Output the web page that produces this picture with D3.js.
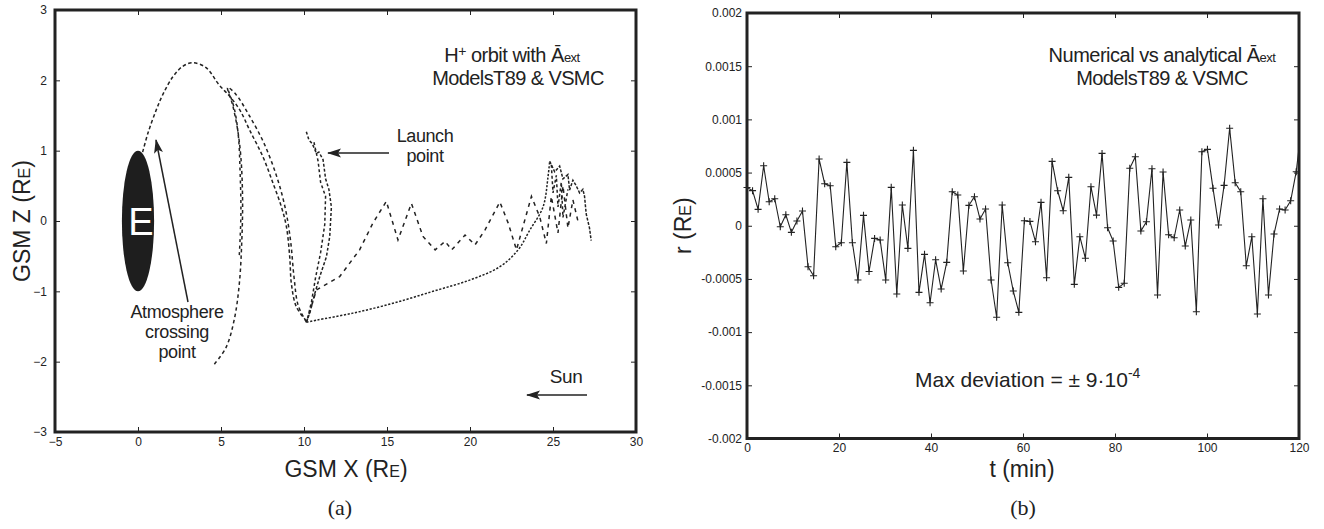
<!DOCTYPE html>
<html>
<head>
<meta charset="utf-8">
<script src="https://cdn.jsdelivr.net/npm/d3@7"></script>
<style>
  body { margin: 0; background: #fff; }
  svg { display: block; }
  text { font-family: "Liberation Sans", Arial, sans-serif; fill: #222; }
  .serif { font-family: "Liberation Serif", "Times New Roman", serif; }
</style>
</head>
<body>
<svg id="chart" width="1324" height="529"></svg>
<script>
// ---- panel (a): orbit segments, [GSM X, GSM Z] in Earth radii
const earthArc = [[0.28,0.98],[0.6,1.25],[1.1,1.58],[1.5,1.8],[2.1,2.05],[2.7,2.2],[3.3,2.25],[4.1,2.18],[4.9,1.93],
  [5.5,1.78],[6.13,1.58],[6.73,1.29],[7.53,0.91],[8.13,0.54],[8.64,0.2],[8.94,-0.08],[9.14,-0.51],[9.24,-0.89],[9.54,-1.22],[10.14,-1.42]]
const innerLoop = [[10.15,-1.44],[9.65,-1.2],[9.4,-0.8],[9.2,-0.3],[8.9,0.15],[8.4,0.6],[7.6,1.1],[6.7,1.5],[5.9,1.8],[5.4,1.9],
  [5.7,1.65],[6.0,1.3],[6.2,0.9],[6.3,0.3],[6.25,-0.3],[6.1,-0.9],[5.8,-1.4],[5.3,-1.8],[4.55,-2.05]]
const innerLoop2 = [[5.45,1.85],[5.8,1.6],[6.05,1.2],[6.15,0.7],[6.2,0.1],[6.1,-0.5]]
const launchStrand = [[10.14,1.27],[10.3,1.15],[10.5,1.1],[10.75,0.96],[10.9,0.98],[11.15,0.87],[11.3,0.6],[11.5,0.45],[11.65,0.2],
  [11.55,-0.22],[11.35,-0.51],[10.95,-0.79],[10.65,-1.03],[10.35,-1.31],[10.15,-1.43]]
const launchStrand2 = [[10.6,1.12],[10.85,0.85],[11.0,0.55],[11.3,0.35],[11.25,-0.05],[11.0,-0.45],[10.7,-0.8],[10.45,-1.15],[10.2,-1.4]]
const wavyPath = [[10.15,-1.44],[10.75,-0.98],[12.15,-0.79],[13.35,-0.41],[14.15,-0.03],[14.96,0.28],[15.66,-0.27],[16.47,0.25],
  [17.17,-0.22],[17.9,-0.41],[18.5,-0.29],[18.9,-0.41],[19.7,-0.2],[20.3,-0.34],[20.9,-0.13],[21.8,0.27],[22.3,-0.03],[22.8,-0.41],
  [23.7,0.35],[24.2,0.06],[24.6,-0.32],[24.9,0.35],[25.3,-0.17],[25.6,0.5],[25.9,-0.1],[26.2,0.3],[26.5,0.0]]
const dottedPath = [[10.15,-1.44],[10.75,-1.41],[12.95,-1.31],[15.36,-1.17],[17.77,-1.0],[19.98,-0.84],[21.8,-0.65],[22.9,-0.41],
  [23.6,-0.13],[24.4,0.2],[24.7,0.63],[24.8,0.85]]
const farCluster = [[24.8,0.85],[25.1,0.7],[25.4,0.78],[25.6,0.6],[25.9,0.66],[26.0,0.44],[26.2,0.58],[26.4,0.5],[26.6,0.4],
  [26.8,0.45],[26.9,0.35],[27.0,0.1],[27.2,-0.1],[27.3,-0.28]]
const farCluster2 = [[24.9,0.8],[25.0,0.4],[25.2,0.65],[25.3,0.2],[25.5,0.55],[25.6,0.05],[25.9,0.45]]
const orbitX = [-5, 0, 5, 10, 15, 20, 25, 30]
const orbitZ = [-3, -2, -1, 0, 1, 2, 3]

// ---- panel (b): deviation r (RE), one sample every ~1.2 min
const sampleStep = 1.206
const deviation = [0.00036,0.00033,0.000154,0.000564,0.000226,0.000254,-0.00001,0.000103,-0.000062,0.000044,
  0.000138,-0.000385,-0.00047,0.000627,0.000395,0.000376,-0.000197,-0.00016,0.000596,-0.00016,
  -0.00051,0.000098,-0.00043,-0.000119,-0.000134,-0.00051,0.000361,-0.000642,0.000195,-0.000213,
  0.000709,-0.000626,-0.000269,-0.000724,-0.00032,-0.000595,-0.000344,0.00032,0.000289,-0.000426,
  0.000192,0.000273,0.000063,0.000157,-0.00051,-0.00086,0.000195,-0.000348,-0.000614,-0.000814,
  0.000047,0.000041,-0.00015,0.00022,-0.000489,0.000605,0.000329,0.000141,0.000455,-0.000551,
  -0.000103,-0.000306,0.000367,0.0001,0.00068,-0.000019,-0.000144,-0.000579,-0.000541,0.00054,
  0.000649,-0.00005,0.000038,0.000536,-0.000651,0.000505,-0.000085,-0.000113,0.000148,-0.000191,
  0.000054,-0.000808,0.000696,0.000718,0.000352,0.0000066,0.00038,0.000916,0.000404,0.00032,
  -0.000376,-0.000103,-0.00083,0.000254,-0.000651,-0.000078,0.000157,0.000148,0.000235,0.000508,
  0.00095]
const timeTicks = [0, 20, 40, 60, 80, 100, 120]
const devTicks = [-0.002, -0.0015, -0.001, -0.0005, 0, 0.0005, 0.001, 0.0015, 0.002]

const svg = d3.select('#chart')
const ink = '#222'

const defs = svg.append('defs')
defs.append('marker')
  .attr('id', 'head')
  .attr('viewBox', '0 -5 14 10')
  .attr('refX', 13).attr('refY', 0)
  .attr('markerWidth', 14).attr('markerHeight', 10)
  .attr('markerUnits', 'userSpaceOnUse')
  .attr('orient', 'auto')
  .append('path')
  .attr('d', 'M0,-4.5L14,0L0,4.5L3,0Z')
  .attr('fill', ink)

// frame + inward ticks on all four sides
function frame(g, x, y, xt, yt, xfmt, yfmt, ypad) {
  const [x0, x1] = x.range(), [y0, y1] = y.range()
  g.append('g').attr('transform', `translate(0,${y0})`)
    .call(d3.axisBottom(x).tickValues(xt).tickSize(-5).tickPadding(5).tickFormat(xfmt))
  g.append('g').attr('transform', `translate(0,${y1})`)
    .call(d3.axisTop(x).tickValues(xt).tickSize(-5).tickFormat(''))
  g.append('g').attr('transform', `translate(${x0},0)`)
    .call(d3.axisLeft(y).tickValues(yt).tickSize(-5).tickPadding(ypad).tickFormat(yfmt))
  g.append('g').attr('transform', `translate(${x1},0)`)
    .call(d3.axisRight(y).tickValues(yt).tickSize(-5).tickFormat(''))
  g.selectAll('.domain').remove()
  g.selectAll('.tick line').attr('stroke', ink).attr('stroke-width', 1)
  g.selectAll('.tick text').attr('font-size', 12).attr('fill', ink)
    .attr('font-family', '"Liberation Sans", Arial, sans-serif')
  g.append('rect')
    .attr('x', x0).attr('y', y1).attr('width', x1 - x0).attr('height', y0 - y1)
    .attr('fill', 'none').attr('stroke', ink).attr('stroke-width', 3)
}

// ================= panel (a) =================
const xa = d3.scaleLinear().domain([-5, 30]).range([55, 636])
const ya = d3.scaleLinear().domain([-3, 3]).range([432, 10])
const ga = svg.append('g')

ga.append('ellipse')
  .attr('cx', xa(0)).attr('cy', ya(0))
  .attr('rx', xa(0.97) - xa(0)).attr('ry', ya(0) - ya(1))
  .attr('fill', '#1e1e1e')
ga.append('text').attr('x', xa(0) + 3).attr('y', ya(0) + 14)
  .attr('text-anchor', 'middle').attr('font-size', 38).style('fill', '#fff').text('E')

const smooth = d3.line().x(d => xa(d[0])).y(d => ya(d[1])).curve(d3.curveCatmullRom)
const jag = d3.line().x(d => xa(d[0])).y(d => ya(d[1]))

const segs = [
  { pts: earthArc, gen: smooth, dash: '3.5,2.5' },
  { pts: innerLoop, gen: smooth, dash: '3.5,3' },
  { pts: innerLoop2, gen: smooth, dash: '3,3.5' },
  { pts: launchStrand, gen: jag, dash: '3,2' },
  { pts: launchStrand2, gen: jag, dash: '3,2.5' },
  { pts: wavyPath, gen: jag, dash: '4,4.5' },
  { pts: dottedPath, gen: smooth, dash: '2.2,1.6' },
  { pts: farCluster, gen: jag, dash: '3,1.5' },
  { pts: farCluster2, gen: jag, dash: '3,2.5' }
]
ga.selectAll('path.orbit').data(segs).join('path')
  .attr('class', 'orbit')
  .attr('d', d => d.gen(d.pts))
  .attr('fill', 'none').attr('stroke', ink).attr('stroke-width', 1.5)
  .attr('stroke-dasharray', d => d.dash)

frame(ga, xa, ya, orbitX, orbitZ, d3.format('d'), d3.format('d'), 8)

// arrows and notes
ga.append('line').attr('x1', 188).attr('y1', 302).attr('x2', 156).attr('y2', 140)
  .attr('stroke', ink).attr('stroke-width', 1.5).attr('marker-end', 'url(#head)')
ga.append('line').attr('x1', 389).attr('y1', 153).attr('x2', 328).attr('y2', 153)
  .attr('stroke', ink).attr('stroke-width', 1.5).attr('marker-end', 'url(#head)')
ga.append('line').attr('x1', 587).attr('y1', 395).attr('x2', 527).attr('y2', 395)
  .attr('stroke', ink).attr('stroke-width', 1.5).attr('marker-end', 'url(#head)')

const note = (x, y, lines, size) => {
  const t = ga.append('text').attr('x', x).attr('y', y).attr('text-anchor', 'middle')
    .attr('font-size', size).attr('letter-spacing', -0.4)
  lines.forEach((l, i) => t.append('tspan').attr('x', x).attr('dy', i ? '1.1em' : 0).text(l))
}
note(177, 318, ['Atmosphere', 'crossing', 'point'], 18)
note(425, 142, ['Launch', 'point'], 18)
note(566, 383, ['Sun'], 19)

const ta = ga.append('text').attr('x', 512).attr('y', 62).attr('text-anchor', 'middle')
  .attr('font-size', 20).attr('letter-spacing', -0.5)
ta.append('tspan').text('H')
ta.append('tspan').attr('font-size', 14).attr('dy', -6).text('+')
ta.append('tspan').attr('dy', 6).text(' orbit with Ā')
ta.append('tspan').attr('font-size', 13).text('ext')
ga.append('text').attr('x', 518).attr('y', 85).attr('text-anchor', 'middle')
  .attr('font-size', 20).attr('letter-spacing', -0.6).text('ModelsT89 & VSMC')

const xl = ga.append('text').attr('x', 346).attr('y', 477).attr('text-anchor', 'middle').attr('font-size', 23)
xl.append('tspan').text('GSM X (R')
xl.append('tspan').attr('font-size', 16).text('E')
xl.append('tspan').text(')')
const yl = ga.append('text').attr('transform', `translate(30,${ya(0)}) rotate(-90)`)
  .attr('text-anchor', 'middle').attr('font-size', 23)
yl.append('tspan').text('GSM Z (R')
yl.append('tspan').attr('font-size', 16).text('E')
yl.append('tspan').text(')')
ga.append('text').attr('class', 'serif').attr('x', 340).attr('y', 515)
  .attr('text-anchor', 'middle').attr('font-size', 22).text('(a)')

// ================= panel (b) =================
const xb = d3.scaleLinear().domain([0, 120]).range([747, 1299])
const yb = d3.scaleLinear().domain([-0.002, 0.002]).range([438.5, 13])
const gb = svg.append('g')

const samples = deviation.map((v, i) => ({ t: i * sampleStep, v }))
gb.append('clipPath').attr('id', 'clipb').append('rect')
  .attr('x', xb(0)).attr('y', yb(0.002)).attr('width', xb(120) - xb(0)).attr('height', yb(-0.002) - yb(0.002))
gb.append('path')
  .attr('clip-path', 'url(#clipb)')
  .attr('d', d3.line().x(d => xb(d.t)).y(d => yb(d.v))(samples))
  .attr('fill', 'none').attr('stroke', ink).attr('stroke-width', 1.1)
gb.selectAll('path.plus').data(samples.filter(d => d.t <= 120)).join('path')
  .attr('class', 'plus')
  .attr('d', d => `M${xb(d.t) - 3.5},${yb(d.v)}h7M${xb(d.t)},${yb(d.v) - 3.5}v7`)
  .attr('stroke', ink).attr('stroke-width', 1.1)

const devFmt = d => d === 0 ? '0' : String(+d.toFixed(4))
frame(gb, xb, yb, timeTicks, devTicks, d3.format('d'), devFmt, 5)

const tb = gb.append('text').attr('x', 1162).attr('y', 62).attr('text-anchor', 'middle')
  .attr('font-size', 20).attr('letter-spacing', -0.5)
tb.append('tspan').text('Numerical vs analytical Ā')
tb.append('tspan').attr('font-size', 13).text('ext')
gb.append('text').attr('x', 1162).attr('y', 85).attr('text-anchor', 'middle')
  .attr('font-size', 20).attr('letter-spacing', -0.6).text('ModelsT89 & VSMC')

const md = gb.append('text').attr('x', 915).attr('y', 387).attr('font-size', 21)
md.append('tspan').text('Max deviation = ± 9·10')
md.append('tspan').attr('font-size', 14).attr('dy', -9).text('-4')

gb.append('text').attr('x', 1022).attr('y', 477).attr('text-anchor', 'middle').attr('font-size', 23)
  .text('t (min)')
const yl2 = gb.append('text').attr('transform', `translate(691,${yb(0)}) rotate(-90)`)
  .attr('text-anchor', 'middle').attr('font-size', 23)
yl2.append('tspan').text('r (R')
yl2.append('tspan').attr('font-size', 16).text('E')
yl2.append('tspan').text(')')
gb.append('text').attr('class', 'serif').attr('x', 1023).attr('y', 515)
  .attr('text-anchor', 'middle').attr('font-size', 22).text('(b)')
</script>
</body>
</html>
